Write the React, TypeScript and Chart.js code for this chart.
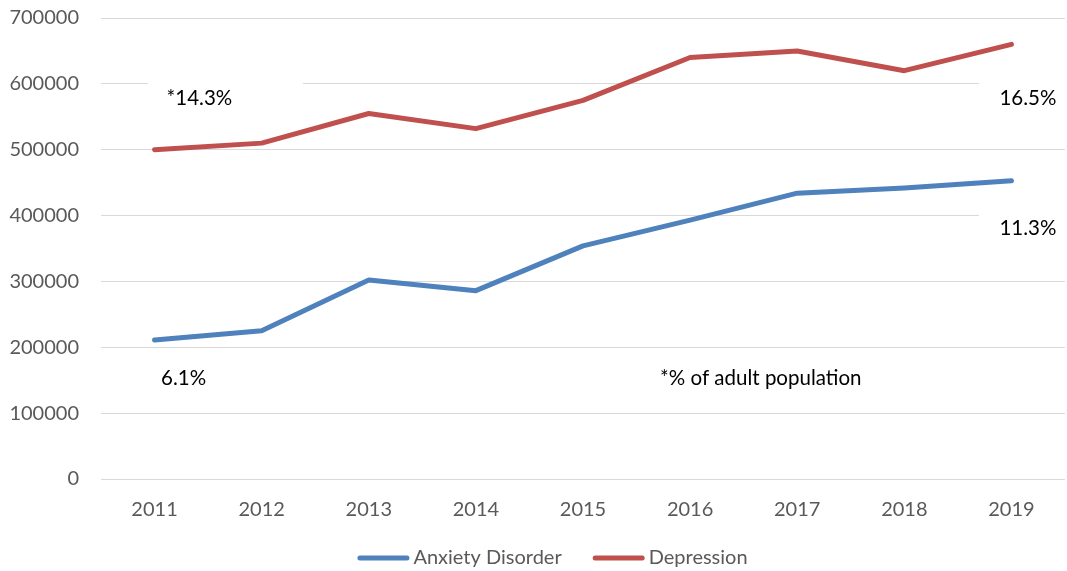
import React, { useEffect, useRef } from "react";
import { Chart, registerables } from "chart.js";

Chart.register(...registerables);

const years = ["2011", "2012", "2013", "2014", "2015", "2016", "2017", "2018", "2019"];
const anxiety = [211000, 225000, 302000, 286000, 354000, 393000, 434000, 442000, 453000];
const depression = [500000, 510000, 555000, 532000, 575000, 640000, 650000, 620000, 660000];
const seriesNames = ["Anxiety Disorder", "Depression"];
const noteTexts = ["*14.3%", "16.5%", "11.3%", "6.1%", "*% of adult population"];

const FONT = "Lato, 'Open Sans', sans-serif";

// annotation placement: anchor category index, anchor value, pixel dx, white box
const notePlacement = [
  { idx: 0, value: 578500, dx: 12, box: { x0: 148, x1: 303, h: 52 } },
  { idx: 8, value: 578500, dx: -12, box: { x0: 979, x1: 1067, h: 52 } },
  { idx: 8, value: 381000, dx: -12, box: { x0: 979, x1: 1067, h: 52 } },
  { idx: 0, value: 153000, dx: 6.5, box: null },
  { idx: 4.72, value: 153000, dx: 0, box: null },
];

const notesPlugin = {
  id: "notes",
  afterDatasetsDraw(chart: any) {
    const ctx = chart.ctx;
    const xs = chart.scales.x;
    const ys = chart.scales.y;
    ctx.save();
    ctx.font = `20.5px ${FONT}`;
    ctx.textBaseline = "middle";
    ctx.textAlign = "left";
    noteTexts.forEach((t, i) => {
      const p = notePlacement[i];
      const i0 = Math.floor(p.idx);
      const frac = p.idx - i0;
      let x = xs.getPixelForValue(i0);
      if (frac > 0) x = x + (xs.getPixelForValue(i0 + 1) - x) * frac;
      x += p.dx;
      const y = ys.getPixelForValue(p.value);
      if (p.box) {
        ctx.fillStyle = "#ffffff";
        ctx.fillRect(p.box.x0, y - p.box.h / 2, p.box.x1 - p.box.x0, p.box.h);
      }
      ctx.fillStyle = "#000000";
      ctx.fillText(t, x, y);
    });
    ctx.restore();
  },
};

const legendPlugin = {
  id: "customLegend",
  afterDraw(chart: any) {
    const ctx = chart.ctx;
    const lineLen = 52;
    const gap = 4;
    const itemGap = 31;
    ctx.save();
    ctx.font = `20px ${FONT}`;
    ctx.textBaseline = "middle";
    ctx.textAlign = "left";
    const items = chart.data.datasets.map((d: any) => ({
      label: d.label,
      color: d.borderColor,
      w: lineLen + gap + ctx.measureText(d.label).width,
    }));
    const total = items.reduce((s: number, it: any) => s + it.w, 0) + itemGap * (items.length - 1);
    let x = (chart.width - total) / 2 + 19;
    const y = chart.height - 13;
    items.forEach((it: any) => {
      ctx.strokeStyle = it.color;
      ctx.lineWidth = 5;
      ctx.lineCap = "round";
      ctx.beginPath();
      ctx.moveTo(x + 2.5, y);
      ctx.lineTo(x + lineLen - 2.5, y);
      ctx.stroke();
      ctx.fillStyle = "#595959";
      ctx.fillText(it.label, x + lineLen + gap, y);
      x += it.w + itemGap;
    });
    ctx.restore();
  },
};

export default function App() {
  const ref = useRef<HTMLCanvasElement>(null);
  useEffect(() => {
    document.body.style.margin = "0";
    const chart = new Chart(ref.current as HTMLCanvasElement, {
      type: "line",
      data: {
        labels: years,
        datasets: [
          {
            label: seriesNames[0],
            data: anxiety,
            borderColor: "#4F81BD",
            backgroundColor: "#4F81BD",
            borderWidth: 5,
            borderCapStyle: "round",
            borderJoinStyle: "round",
            pointRadius: 0,
            tension: 0,
          },
          {
            label: seriesNames[1],
            data: depression,
            borderColor: "#C0504D",
            backgroundColor: "#C0504D",
            borderWidth: 5,
            borderCapStyle: "round",
            borderJoinStyle: "round",
            pointRadius: 0,
            tension: 0,
          },
        ],
      },
      options: {
        animation: false,
        responsive: true,
        maintainAspectRatio: false,
        layout: { padding: { left: 0, right: 2, top: 18, bottom: 42 } },
        plugins: {
          tooltip: { enabled: false },
          legend: { display: false },
        },
        scales: {
          x: {
            offset: true,
            grid: { display: false, offset: true },
            border: { display: false },
            ticks: {
              color: "#595959",
              font: { family: FONT, size: 20 },
              padding: 11,
              maxRotation: 0,
            },
            afterFit(scale: any) {
              scale.height = 50;
            },
          },
          y: {
            min: 0,
            max: 700000,
            grid: { color: "#D9D9D9", lineWidth: 1, drawTicks: false },
            border: { display: false },
            ticks: {
              stepSize: 100000,
              color: "#595959",
              font: { family: FONT, size: 20 },
              padding: 22,
              callback: (v: any) => String(v),
            },
            afterFit(scale: any) {
              scale.width = 101;
              scale.paddingTop = 12;
              scale.paddingBottom = 12;
            },
          },
        },
      },
      plugins: [notesPlugin, legendPlugin],
    });
    return () => chart.destroy();
  }, []);
  return (
    <div style={{ width: 1067, height: 571, position: "relative" }}>
      <canvas ref={ref} />
    </div>
  );
}
